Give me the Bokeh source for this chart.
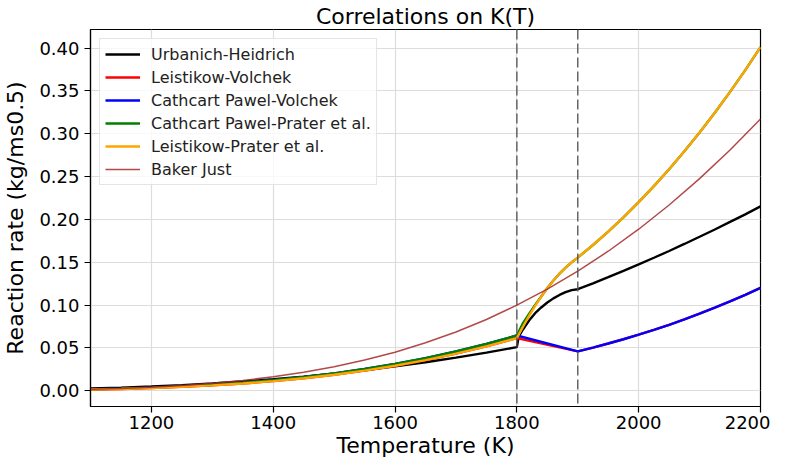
from bokeh.plotting import figure
from bokeh.models import Span, Legend, LegendItem, FixedTicker, PrintfTickFormatter
from bokeh.embed import file_html
from bokeh.resources import INLINE

# ---- data ----
T_LOW = [1100, 1150, 1200, 1250, 1300, 1350, 1400, 1450, 1500, 1550, 1600, 1650, 1700, 1750, 1800]
K_UH_LOW = [0.0026, 0.0036, 0.0049, 0.0065, 0.0084, 0.0107, 0.0134, 0.0165, 0.0200, 0.0239,
            0.0284, 0.0333, 0.0386, 0.0445, 0.0509]
K_LEIST_LOW = [0.0014, 0.0021, 0.0031, 0.0045, 0.0062, 0.0085, 0.0112, 0.0146, 0.0187, 0.0235,
               0.0292, 0.0358, 0.0433, 0.0518, 0.0614]
K_CP_LOW = [0.0016, 0.0025, 0.0036, 0.0051, 0.0070, 0.0094, 0.0124, 0.0160, 0.0203, 0.0254,
            0.0313, 0.0381, 0.0458, 0.0546, 0.0645]

# transition region 1800-1900 K
T_TR = [1810, 1820, 1830, 1840, 1850, 1860, 1870, 1880, 1890]
K_UH_TR = [0.0715, 0.0820, 0.0905, 0.0972, 0.1030, 0.1078, 0.1118, 0.1150, 0.1174]
K_LP_TR = [0.0747, 0.0873, 0.0990, 0.1098, 0.1197, 0.1286, 0.1366, 0.1437, 0.1499]
K_CP_TR = [0.0790, 0.0897, 0.1002, 0.1100, 0.1198, 0.1286, 0.1366, 0.1437, 0.1499]
T_UH_JUMP = [1803]
K_UH_JUMP = [0.0630]

T_HIGH = [1900, 1925, 1950, 1975, 2000, 2025, 2050, 2075, 2100, 2125, 2150, 2175, 2200]
K_UH_HIGH = [0.1185, 0.1254, 0.1325, 0.1399, 0.1474, 0.1552, 0.1631, 0.1713, 0.1797, 0.1882,
             0.1970, 0.2059, 0.2151]
K_VOLCHEK = [0.0460, 0.0504, 0.0551, 0.0601, 0.0654, 0.0710, 0.0769, 0.0832, 0.0899, 0.0969,
             0.1042, 0.1119, 0.1200]
K_PRATER = [0.1554, 0.1701, 0.1858, 0.2024, 0.2201, 0.2388, 0.2585, 0.2794, 0.3013, 0.3244,
            0.3488, 0.3742, 0.4011]

T_BJ = [1100, 1150, 1200, 1250, 1300, 1350, 1400, 1450, 1500, 1550, 1600, 1650, 1700, 1750,
        1800, 1850, 1900, 1950, 2000, 2050, 2100, 2150, 2200]
K_BJ = [0.0017, 0.0027, 0.0042, 0.0061, 0.0087, 0.0120, 0.0162, 0.0215, 0.0280, 0.0358,
        0.0450, 0.0560, 0.0686, 0.0832, 0.0999, 0.1186, 0.1395, 0.1628, 0.1885, 0.2168,
        0.2476, 0.2810, 0.3172]

PHASE_LIMITS = [1800, 1900]
X_TICKS = [1200, 1400, 1600, 1800, 2000, 2200]
Y_TICKS = [0.0, 0.05, 0.10, 0.15, 0.20, 0.25, 0.30, 0.35, 0.40]

SERIES_NAMES = ["Urbanich-Heidrich", "Leistikow-Volchek", "Cathcart Pawel-Volchek",
                "Cathcart Pawel-Prater et al.", "Leistikow-Prater et al.", "Baker Just"]

series = [
    (T_LOW + T_UH_JUMP + T_TR + T_HIGH, K_UH_LOW + K_UH_JUMP + K_UH_TR + K_UH_HIGH),
    (T_LOW + T_HIGH, K_LEIST_LOW + K_VOLCHEK),
    (T_LOW + T_HIGH, K_CP_LOW + K_VOLCHEK),
    (T_LOW + T_TR + T_HIGH, K_CP_LOW + K_CP_TR + K_PRATER),
    (T_LOW + T_TR + T_HIGH, K_LEIST_LOW + K_LP_TR + K_PRATER),
    (T_BJ, K_BJ),
]
styles = [
    dict(color="black", width=2.4, alpha=1.0),
    dict(color="#ff0000", width=2.4, alpha=1.0),
    dict(color="#0000ff", width=2.4, alpha=1.0),
    dict(color="#008000", width=2.4, alpha=1.0),
    dict(color="#ffa500", width=2.4, alpha=1.0),
    dict(color="#a52a2a", width=1.5, alpha=0.85),
]

FONT = "DejaVu Sans"

p = figure(width=770, height=460, x_range=(1100, 2200), y_range=(-0.0184, 0.4216),
           output_backend="svg", toolbar_location=None, title="Correlations on K(T)",
           min_border_left=86, min_border_right=10, min_border_top=26, min_border_bottom=0)

p.title.text_font = FONT
p.title.text_font_size = "22px"
p.title.text_font_style = "normal"
p.title.align = "center"
p.title.standoff = 2
p.title.text_color = "black"

p.xaxis.ticker = FixedTicker(ticks=X_TICKS)
p.yaxis.ticker = FixedTicker(ticks=Y_TICKS)
p.yaxis.formatter = PrintfTickFormatter(format="%.2f")
p.xaxis.axis_label = "Temperature (K)"
p.yaxis.axis_label = "Reaction rate (kg/ms0.5)"
for ax in (p.xaxis, p.yaxis):
    ax.axis_label_text_font = FONT
    ax.axis_label_text_font_size = "22px"
    ax.axis_label_text_font_style = "normal"
    ax.axis_label_text_color = "black"
    ax.major_label_text_font = FONT
    ax.major_label_text_font_size = "18px"
    ax.major_label_text_color = "black"
    ax.axis_line_color = "black"
    ax.axis_line_width = 1.2
    ax.major_tick_line_color = "black"
    ax.major_tick_line_width = 1.2
    ax.major_tick_out = 6
    ax.major_tick_in = 0
    ax.minor_tick_line_color = None
p.xaxis.major_label_standoff = 3
p.xaxis.axis_label_standoff = 1
p.yaxis.major_label_standoff = 5
p.yaxis.axis_label_standoff = 8

p.outline_line_color = "black"
p.outline_line_width = 1.2
p.grid.grid_line_color = "#dddddd"
p.grid.grid_line_width = 1.2
p.background_fill_color = "white"

items = []
for name, (xs, ys), st in zip(SERIES_NAMES, series, styles):
    r = p.line(xs, ys, line_color=st["color"], line_width=st["width"], line_alpha=st["alpha"])
    items.append(LegendItem(label=name, renderers=[r]))

for loc in PHASE_LIMITS:
    p.add_layout(Span(location=loc, dimension="height", line_color="#555555",
                      line_dash="10 4", line_width=1.5, line_alpha=0.9))

legend = Legend(items=items, location="top_left")
legend.label_text_font = FONT
legend.label_text_font_size = "16px"
legend.label_text_color = "#222222"
legend.glyph_width = 35
legend.glyph_height = 20
legend.label_height = 20
legend.label_standoff = 11
legend.spacing = 3
legend.padding = 5
legend.margin = 9
legend.border_line_color = "#cccccc"
legend.border_line_width = 1
legend.background_fill_alpha = 0.8
p.add_layout(legend)

open("out.html", "w").write(file_html(p, INLINE))
